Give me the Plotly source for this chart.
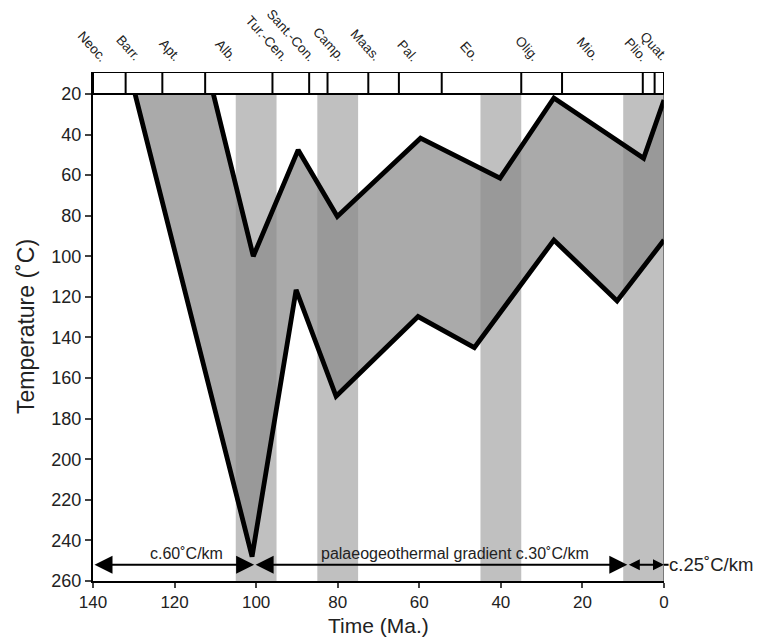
import plotly.graph_objects as go

# ---- data ----
upper_age = [110.5, 100.7, 89.7, 80.1, 59.7, 40.2, 27.0, 5.0, 0.0]
upper_temp = [20, 100, 47.6, 80.4, 41.8, 61.5, 22, 51.7, 23]
lower_age = [129.7, 101.0, 90.2, 80.4, 60.3, 46.5, 27.0, 11.5, 0.0]
lower_temp = [20, 248, 116.5, 169, 129.7, 145, 92, 122, 92]

stage_bounds = [140, 132, 123, 112.5, 96, 87, 82.5, 72.5, 65, 54.5, 35, 25, 5.2, 2.3, 0]
stage_labels = ["Neoc.", "Barr.", "Apt.", "Alb.", "Tur.-Cen.", "Sant.-Con.", "Camp.",
                "Maas.", "Pal.", "Eo.", "Olig.", "Mio.", "Plio.", "Quat."]

bands = [(105, 95), (85, 75), (45, 35), (10, 0)]

grad_segments = [(140, 100.5), (100.5, 9), (9, 0)]
grad_texts = ["c.60˚C/km", "palaeogeothermal gradient c.30˚C/km"]
grad_text_x = [117, 51.3]
grad_y = 252

x_ticks = [140, 120, 100, 80, 60, 40, 20, 0]
y_ticks = list(range(20, 261, 20))
x_title = "Time (Ma.)"
y_title = "Temperature (˚C)"

# ---- styling ----
BOX_TOP = 9.2
FONT = "Liberation Sans, Arial, sans-serif"
label_xshift = {"Plio.": 1, "Quat.": 11}
seg_arrow_size = [1.8, 1.8, 1.1]

fig = go.Figure()

# polygon fill
fig.add_trace(go.Scatter(
    x=upper_age + lower_age[::-1], y=upper_temp + lower_temp[::-1],
    fill="toself", fillcolor="rgba(138,138,138,0.73)", mode="none",
    hoverinfo="skip", showlegend=False))
# outlines
for xs, ys in [(upper_age, upper_temp), (lower_age, lower_temp)]:
    fig.add_trace(go.Scatter(x=xs, y=ys, mode="lines",
                             line=dict(color="black", width=4.8),
                             hoverinfo="skip", showlegend=False))

shapes = []
for a, b in bands:
    shapes.append(dict(type="rect", xref="x", yref="y", x0=a, x1=b, y0=20, y1=260,
                       fillcolor="#c0c0c0", line=dict(width=0), layer="below"))
# stage box
shapes.append(dict(type="rect", xref="x", yref="y", x0=140, x1=0, y0=BOX_TOP, y1=20,
                   fillcolor="white", line=dict(color="black", width=2), layer="above"))
for b in stage_bounds[1:-1]:
    shapes.append(dict(type="line", xref="x", yref="y", x0=b, x1=b, y0=BOX_TOP, y1=20,
                       line=dict(color="black", width=2)))
# right edge line
shapes.append(dict(type="line", xref="x", yref="y", x0=0, x1=0, y0=20, y1=260,
                   line=dict(color="#333", width=1)))
# extension of gradient line beyond 0
shapes.append(dict(type="line", xref="paper", yref="y", x0=1, x1=1.008, y0=grad_y, y1=grad_y,
                   line=dict(color="black", width=2)))
fig.update_layout(shapes=shapes)

annotations = []
for lab, a, b in zip(stage_labels, stage_bounds[:-1], stage_bounds[1:]):
    annotations.append(dict(x=(a + b) / 2, y=BOX_TOP, xref="x", yref="y", text=lab,
                            showarrow=False, textangle=48, xanchor="right", yanchor="bottom",
                            yshift=5, xshift=3 + label_xshift.get(lab, 0),
                            font=dict(size=13.5, color="#222", family=FONT)))
for (x0, x1), sz in zip(grad_segments, seg_arrow_size):
    annotations.append(dict(x=x1, y=grad_y, ax=x0, ay=grad_y, xref="x", yref="y",
                            axref="x", ayref="y", text="", showarrow=True,
                            arrowhead=2, startarrowhead=2, arrowside="end+start",
                            arrowsize=sz, startarrowsize=sz, arrowwidth=2,
                            arrowcolor="black"))
for t, xx in zip(grad_texts, grad_text_x):
    annotations.append(dict(x=xx, y=grad_y, xref="x", yref="y", text=t, showarrow=False,
                            yanchor="bottom", yshift=1, font=dict(size=16, color="#222", family=FONT)))
annotations.append(dict(x=0, y=grad_y, xref="x", yref="y", text="c.25˚C/km", showarrow=False,
                        xanchor="left", xshift=3, font=dict(size=18.5, color="#222", family=FONT)))
# x-axis title
annotations.append(dict(x=0.5, y=0, xref="paper", yref="paper", text=x_title, showarrow=False,
                        xanchor="center", yanchor="middle", yshift=-44,
                        font=dict(size=21, color="#222", family=FONT)))
fig.update_layout(annotations=annotations)

fig.update_layout(
    width=767, height=638,
    margin=dict(l=85, r=111, t=64, b=65),
    plot_bgcolor="white", paper_bgcolor="white",
    font=dict(family=FONT, color="#222"),
    xaxis=dict(range=[140, 0], tickvals=x_ticks, ticks="outside", ticklen=5, tickwidth=2,
               showline=True, linecolor="black", linewidth=2, showgrid=False, zeroline=False,
               tickfont=dict(size=17)),
    yaxis=dict(range=[260, BOX_TOP], tickvals=y_ticks, ticks="outside", ticklen=6, tickwidth=2,
               showline=True, linecolor="black", linewidth=2, showgrid=False, zeroline=False,
               tickfont=dict(size=18), title=dict(text=y_title, font=dict(size=23), standoff=10)),
)

fig.write_html("out.html")
